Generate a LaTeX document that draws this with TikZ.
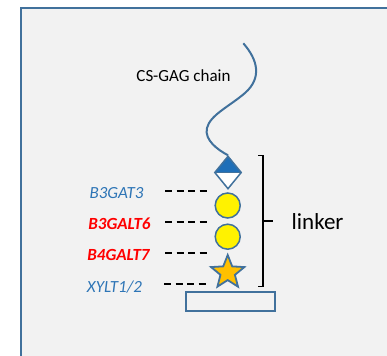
\documentclass[tikz,border=0pt]{standalone}
\usepackage{fontspec}
\setmainfont{Carlito}
\usetikzlibrary{shapes.geometric}
\definecolor{frameblue}{HTML}{41719C}
\definecolor{labelblue}{HTML}{2E75B6}
\definecolor{darkblue}{HTML}{1F6FB8}
\definecolor{bg}{HTML}{F2F2F2}
\definecolor{starorange}{HTML}{FFC000}
\definecolor{labelred}{HTML}{FF0000}
\begin{document}
\begin{tikzpicture}[x=1pt,y=-1pt,
  sugar/.style={draw=frameblue, line width=1.5pt, inner sep=0pt},
  gal/.style={sugar, circle, fill=yellow, minimum size=25pt},
  enzblue/.style={font=\fontsize{17}{17}\selectfont\itshape, text=labelblue, inner sep=0pt},
  enzred/.style={font=\fontsize{17}{17}\selectfont\bfseries\itshape, text=labelred, inner sep=0pt},
  dashline/.style={black, line width=1.3pt, dash pattern=on 7pt off 4.5pt}]
\useasboundingbox (0,0) rectangle (387,355);
\clip (0,0) rectangle (387,355);
\fill[white] (0,0) rectangle (387,355);
\draw[frameblue, line width=2pt, fill=bg] (21,8) rectangle (420,380);

% sugars
\node[sugar, diamond, fill=white, minimum width=27pt, minimum height=33pt,
  path picture={\fill[darkblue] (path picture bounding box.north west) rectangle (path picture bounding box.east);}]
  (glca) at (228,172.5) {};
\draw[frameblue, line width=1.5pt] (glca.west) -- (glca.east);
\node[gal] (gal1) at (227.7,205.5) {};
\node[gal] (gal2) at (227.7,236.7) {};
\coordinate (xyl) at (227.7,272.5);
\draw[draw=frameblue, fill=starorange, line width=1.8pt, line join=miter, shift={(xyl)}]
  (-90:17.5) -- (-54:7.6) -- (-18:17.5) -- (18:7.6) -- (54:17.5) -- (90:7.6)
  -- (126:17.5) -- (162:7.6) -- (198:17.5) -- (234:7.6) -- cycle;
\node[draw=frameblue, line width=1.8pt, minimum width=89pt, minimum height=19pt, inner sep=0pt] (core) at (230.5,301.2) {};

% chain
\coordinate (ctop) at (243.3,43.3);
\draw[frameblue, line width=2pt] (ctop) .. controls (258,60) and (262,78) .. (245,93)
  .. controls (230,106) and (210,115) .. (207,128)
  .. controls (204,140) and (218,150) .. (glca.north);
\node[font=\fontsize{17}{17}\selectfont, inner sep=0pt] (chain) at (183.5,76) {CS-GAG chain};

% enzymes
\node[enzblue] (e1) at (116.5,193) {B3GAT3};
\node[enzred] (e2) at (119.5,224) {B3GALT6};
\node[enzred] (e3) at (118.5,255) {B4GALT7};
\node[enzblue] (e4) at (114.5,287) {XYLT1/2};
\coordinate (d1a) at (165,191); \coordinate (d1b) at (208,191);
\coordinate (d2a) at (165,222); \coordinate (d2b) at (208,222);
\coordinate (d3a) at (165,253); \coordinate (d3b) at (208,253);
\coordinate (d4a) at (164,284); \coordinate (d4b) at (207,284);
\draw[dashline] (d1a) -- (d1b);
\draw[dashline] (d2a) -- (d2b);
\draw[dashline] (d3a) -- (d3b);
\draw[dashline] (d4a) -- (d4b);

% bracket
\coordinate (bt) at (258,155.5);
\coordinate (bb) at (258,286.5);
\coordinate (bm) at (263,221);
\coordinate (bmr) at (273,221);
\draw[black, line width=1.2pt] (bt) -- (263,155.5) -- (263,286.5) -- (bb);
\draw[black, line width=1.2pt] (bm) -- (bmr);
\node[font=\fontsize{23}{23}\selectfont, inner sep=0pt, anchor=west] (linker) at (291.5,222) {linker};
\end{tikzpicture}
\end{document}
